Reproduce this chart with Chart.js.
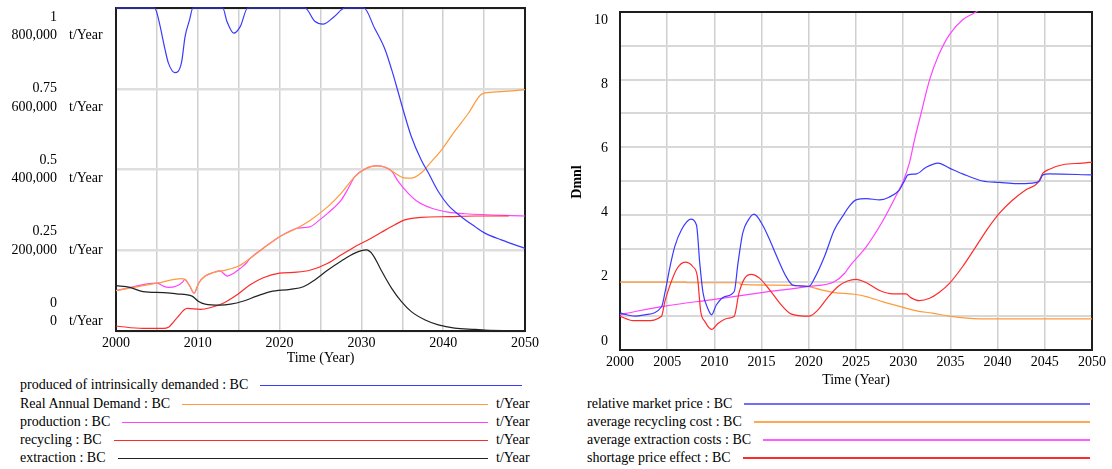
<!DOCTYPE html>
<html><head><meta charset="utf-8">
<script src="https://cdn.jsdelivr.net/npm/chart.js@4.4.0/dist/chart.umd.min.js"></script>
<style>
html,body{margin:0;padding:0;background:#fff;width:1112px;height:469px;overflow:hidden;font-family:"Liberation Serif","Times New Roman",serif;color:#000;}
#c1wrap{position:absolute;left:0;top:0;width:560px;height:372px;}
#c2wrap{position:absolute;left:560px;top:0;width:552px;height:392px;}
.row{position:absolute;display:flex;align-items:center;font-size:14px;height:18px;white-space:nowrap;}
.row .ln{flex:1;margin-left:12px;height:0;}
.unit{position:absolute;font-size:14px;line-height:18px;height:18px;}
</style>
</head><body>
<div id="c1wrap"><canvas id="c1" width="560" height="372"></canvas></div>
<div id="c2wrap"><canvas id="c2" width="552" height="392"></canvas></div>
<div id="legend"></div>
<script>
// ---------- Left chart data (year, value) ----------
const producedIntrinsic = [[2000,1],[2004.7,1],[2005,0.985],[2005.4,0.943],[2006,0.871],[2006.4,0.83],[2007.2,0.80],[2008,0.83],[2008.45,0.912],[2009,0.964],[2009.4,1],[2013.06,1],[2013.55,0.959],[2014.4,0.922],[2015.2,0.943],[2016.1,1],[2023.1,1],[2024.3,0.959],[2025.3,0.950],[2026.7,0.974],[2028,1],[2030.3,1],[2031.6,0.938],[2032.9,0.871],[2033.7,0.809],[2034.3,0.757],[2035.1,0.685],[2036.1,0.602],[2037.3,0.53],[2038.2,0.489],[2039.4,0.432],[2040.6,0.39],[2042.2,0.354],[2043.9,0.323],[2045.1,0.303],[2047.1,0.282],[2050,0.256]];
const realAnnualDemand = [[2000,100000],[2005,118400],[2008,129600],[2008.4,128000],[2009,112000],[2009.55,93600],[2010.1,118400],[2010.9,136000],[2011.9,144800],[2013.1,149600],[2015,160800],[2016.4,180000],[2018,204800],[2020,233600],[2022.1,254400],[2023.8,275200],[2025.9,308000],[2027.55,341600],[2029.2,382400],[2030.4,400800],[2031.8,408800],[2032.9,405600],[2034.1,391200],[2035.1,380000],[2036.1,378400],[2037.3,391200],[2038.4,416000],[2039.8,448800],[2041.4,494400],[2043.1,540000],[2044.5,583200],[2045.1,589600],[2047.1,592800],[2050,597600]];
const production = [[2000,100000],[2005,118400],[2005.3,116800],[2005.8,111200],[2006.4,108000],[2007.4,111600],[2008.2,122400],[2008.4,128000],[2009,112000],[2009.55,93600],[2010.1,118400],[2010.9,136000],[2011.9,144800],[2012.7,148800],[2013.6,136000],[2014.4,143200],[2015.2,155200],[2016,169600],[2016.4,180000],[2018,204800],[2020,233600],[2022.1,254400],[2022.9,256000],[2023.8,258800],[2024.9,275200],[2025.9,292000],[2027.55,324800],[2028.4,353600],[2029.2,382400],[2030.4,400800],[2031.8,408800],[2032.9,405600],[2033.7,396000],[2034.5,370400],[2035.7,341600],[2036.9,320000],[2038.6,304000],[2040.6,294400],[2042.65,290400],[2050,284800]];
const recycling = [[2000,12400],[2003.3,6400],[2005.8,6400],[2006.4,9100],[2007.4,31200],[2008.7,56000],[2010.3,53600],[2011.5,57600],[2013.1,68800],[2014.8,89600],[2016.4,114400],[2018,132000],[2020,143200],[2022.1,145600],[2023.8,151200],[2025.9,168000],[2027.55,188800],[2029.2,208800],[2030.8,225600],[2032.4,244000],[2034.1,263200],[2035.3,275200],[2037.3,281600],[2040.6,283200],[2043.9,284800],[2048,284800]];
const extraction = [[2000,112400],[2001.7,108000],[2003.3,97600],[2005.8,95200],[2007.4,92000],[2009.3,86400],[2010.1,72800],[2010.9,66400],[2012.7,64000],[2014,66400],[2015.6,74400],[2017.2,86400],[2018.9,97600],[2021.3,103200],[2022.9,109600],[2024.3,126400],[2025.9,151200],[2027.55,173600],[2029.2,192800],[2030.6,200800],[2031.4,188800],[2032.4,151200],[2033.7,105600],[2034.9,72800],[2036.1,48000],[2037.8,27200],[2039.4,15200],[2041.4,7200],[2043.9,4000],[2045.1,2400],[2050,800]];

// ---------- Right chart data (year, Dmnl) ----------
const relativeMarketPrice = [[2000,1.1],[2000.35,1.07],[2001.6,1.0],[2002.6,1.04],[2004.4,1.28],[2004.75,1.68],[2005.3,2.47],[2005.8,3.06],[2006.5,3.55],[2007.5,3.87],[2008.1,3.70],[2008.45,2.57],[2008.8,1.68],[2009.3,1.23],[2009.7,1.04],[2010.2,1.33],[2011.1,1.58],[2012.1,1.73],[2012.5,2.57],[2013,3.46],[2013.6,3.85],[2014.2,4.02],[2015,3.75],[2015.7,3.36],[2016.7,2.71],[2017.6,2.17],[2018.3,1.92],[2019,1.90],[2020,1.88],[2020.6,2.12],[2021.65,2.76],[2022.7,3.55],[2023.8,4.05],[2024.3,4.26],[2025,4.44],[2026.1,4.48],[2027.5,4.44],[2028.5,4.52],[2029.6,4.74],[2030.1,4.99],[2030.5,5.18],[2031.4,5.21],[2032.4,5.40],[2033.7,5.53],[2034.9,5.38],[2036.3,5.21],[2038.4,5.0],[2040.2,4.96],[2042,4.92],[2043.7,4.94],[2044.4,4.99],[2044.8,5.18],[2045.5,5.21],[2050,5.18]];
const avgRecyclingCost = [[2000,2.01],[2007,2.01],[2007.05,1.99],[2012.7,1.99],[2012.75,1.94],[2016,1.92],[2019.9,1.88],[2021.3,1.78],[2022.7,1.70],[2024.8,1.65],[2026.1,1.58],[2027.8,1.43],[2030,1.26],[2031.4,1.16],[2033.1,1.09],[2034.9,1.0],[2038.1,0.92],[2050,0.92]];
const avgExtractionCosts = [[2000,1.04],[2001.6,1.14],[2004.75,1.30],[2010,1.50],[2015,1.70],[2020,1.88],[2022.7,2.02],[2023.8,2.27],[2024.3,2.47],[2026.1,3.06],[2027.8,3.80],[2029.2,4.54],[2030,4.99],[2030.65,5.53],[2031.2,6.22],[2031.9,7.01],[2032.8,8.0],[2033.7,8.69],[2034.9,9.33],[2036.3,9.77],[2037.7,10.0],[2038.5,10.15]];
const shortagePriceEffect = [[2000,1.0],[2001.4,0.87],[2002.8,0.87],[2004.4,1.0],[2004.75,1.43],[2005.3,1.92],[2006,2.39],[2006.9,2.60],[2007.7,2.47],[2008.2,2.17],[2008.55,1.14],[2009,0.84],[2009.7,0.61],[2010.4,0.79],[2011.4,0.94],[2012.1,1.0],[2012.6,1.68],[2013.2,2.12],[2013.9,2.24],[2014.8,2.12],[2015.85,1.78],[2017.1,1.33],[2018.1,1.07],[2020,1.0],[2020.95,1.18],[2022,1.55],[2023.1,1.88],[2024.1,2.04],[2025,2.09],[2026.1,1.99],[2027.5,1.76],[2028.9,1.66],[2030.3,1.66],[2030.8,1.55],[2031.7,1.46],[2032.8,1.53],[2033.8,1.70],[2034.9,1.97],[2036.3,2.47],[2037.7,3.06],[2039.1,3.65],[2040.2,4.05],[2041.6,4.44],[2043,4.74],[2044.3,4.96],[2044.8,5.23],[2045.5,5.35],[2046.9,5.48],[2049,5.53],[2050,5.56]];

// ---------- Tick labels ----------
const leftXTicks = [2000, 2010, 2020, 2030, 2040, 2050];
const rightXTicks = [2000, 2005, 2010, 2015, 2020, 2025, 2030, 2035, 2040, 2045, 2050];
const leftDmnlLabels = ['1', '0.75', '0.5', '0.25', '0'];
const leftTonLabels = ['800,000', '600,000', '400,000', '200,000', '0'];
const rightYLabels = ['10', '8', '6', '4', '2', '0'];

// ---------- Legend ----------
const leftLegend = [
  {name: 'produced of intrinsically demanded : BC', color: '#3a3aff', unit: ''},
  {name: 'Real Annual Demand : BC', color: '#ff9a3c', unit: 't/Year'},
  {name: 'production : BC', color: '#ff44ff', unit: 't/Year'},
  {name: 'recycling : BC', color: '#ff2a2a', unit: 't/Year'},
  {name: 'extraction : BC', color: '#222222', unit: 't/Year'}
];
const rightLegend = [
  {name: 'relative market price : BC', color: '#6f6fff'},
  {name: 'average recycling cost : BC', color: '#ffa854'},
  {name: 'average extraction costs : BC', color: '#ff5cff'},
  {name: 'shortage price effect : BC', color: '#ff2a2a'}
];

const FONT = '14px "Liberation Serif", "Times New Roman", serif';
const toXY = arr => arr.map(([x, y]) => ({x, y}));
function ds(data, color, axis) {
  return {data: toXY(data), borderColor: color, borderWidth: 1.2, pointRadius: 0,
    cubicInterpolationMode: 'monotone', fill: false, yAxisID: axis, clip: 1};
}

function makeFramePlugin(cfg) {
  return {
    id: 'frameAndText',
    beforeDatasetsDraw(chart) {
      const {ctx, chartArea: a} = chart;
      ctx.save();
      ctx.strokeStyle = '#1e1e1e';
      ctx.lineWidth = 2;
      ctx.strokeRect(a.left, a.top, a.right - a.left, a.bottom - a.top);
      ctx.restore();
    },
    afterDraw(chart) {
      const {ctx, chartArea: a} = chart;
      const xs = chart.scales.x;
      ctx.save();
      ctx.fillStyle = '#000';
      ctx.font = FONT;
      ctx.textBaseline = 'middle';
      ctx.textAlign = 'center';
      cfg.xTicks.forEach(v => ctx.fillText(String(v), xs.getPixelForValue(v), a.bottom + cfg.xTickGap));
      ctx.fillText('Time (Year)', (a.left + a.right) / 2, a.bottom + cfg.titleGap);
      cfg.drawY(ctx, a);
      ctx.restore();
    }
  };
}

// Left chart
new Chart(document.getElementById('c1'), {
  type: 'line',
  data: {datasets: [
    ds(producedIntrinsic, '#3a3aff', 'y'),
    ds(extraction, '#222222', 'yt'),
    ds(recycling, '#ff2a2a', 'yt'),
    ds(realAnnualDemand, '#ff9a3c', 'yt'),
    ds(production, '#ff44ff', 'yt')
  ]},
  options: {
    responsive: false, animation: false, devicePixelRatio: 1,
    layout: {padding: {left: 116, top: 8, right: 35, bottom: 41}},
    plugins: {legend: {display: false}, tooltip: {enabled: false}},
    scales: {
      x: {type: 'linear', min: 2000, max: 2050,
        ticks: {display: false, stepSize: 5},
        grid: {color: '#cfcfcf', lineWidth: 1.5, drawTicks: false}, border: {display: false}},
      y: {type: 'linear', min: 0, max: 1, position: 'left',
        ticks: {display: false, stepSize: 0.25},
        grid: {color: '#dedede', lineWidth: 2.5, drawTicks: false}, border: {display: false}},
      yt: {type: 'linear', min: 0, max: 800000, display: false}
    }
  },
  plugins: [makeFramePlugin({
    xTicks: leftXTicks, xTickGap: 12, titleGap: 27,
    drawY(ctx, a) {
      const h = a.bottom - a.top;
      const step = (h - 37) / 4;
      leftDmnlLabels.forEach((t, i) => {
        const y = a.top + 9 + i * step;
        ctx.textAlign = 'right';
        ctx.fillText(t, 57, y);
        ctx.fillText(leftTonLabels[i], 57, y + 18.5);
        ctx.textAlign = 'left';
        ctx.fillText('t/Year', 69, y + 18.5);
      });
    }
  })]
});

// Right chart
new Chart(document.getElementById('c2'), {
  type: 'line',
  data: {datasets: [
    ds(relativeMarketPrice, '#3a3aff', 'y'),
    ds(shortagePriceEffect, '#ff2a2a', 'y'),
    ds(avgExtractionCosts, '#ff44ff', 'y'),
    ds(avgRecyclingCost, '#ff9a3c', 'y')
  ]},
  options: {
    responsive: false, animation: false, devicePixelRatio: 1,
    layout: {padding: {left: 60, top: 12, right: 20, bottom: 42}},
    plugins: {legend: {display: false}, tooltip: {enabled: false}},
    scales: {
      x: {type: 'linear', min: 2000, max: 2050,
        ticks: {display: false, stepSize: 5},
        grid: {color: '#cfcfcf', lineWidth: 1.5, drawTicks: false}, border: {display: false}},
      y: {type: 'linear', min: 0, max: 10,
        ticks: {display: false, stepSize: 1},
        grid: {color: '#d8d8d8', lineWidth: 2, drawTicks: false}, border: {display: false}}
    }
  },
  plugins: [makeFramePlugin({
    xTicks: rightXTicks, xTickGap: 12, titleGap: 30,
    drawY(ctx, a) {
      const y0 = a.top + 8, y1 = a.bottom - 9;
      const step = (y1 - y0) / (rightYLabels.length - 1);
      ctx.textAlign = 'right';
      rightYLabels.forEach((t, i) => ctx.fillText(t, 48, y0 + i * step));
      ctx.save();
      ctx.translate(17, (a.top + a.bottom) / 2 + 1);
      ctx.rotate(-Math.PI / 2);
      ctx.textAlign = 'center';
      ctx.font = 'bold ' + FONT;
      ctx.fillText('Dmnl', 0, 0);
      ctx.restore();
    }
  })]
});

// Legend (HTML)
const legendEl = document.getElementById('legend');
const rowCenters = [385, 404, 422, 440, 458];
leftLegend.forEach((it, i) => {
  const row = document.createElement('div');
  row.className = 'row';
  const right = it.unit ? 488 : 522;
  row.style.left = '20px';
  row.style.width = (right - 20) + 'px';
  row.style.top = (rowCenters[i] - 9) + 'px';
  row.innerHTML = '<span>' + it.name + '</span><div class="ln" style="border-top:1.5px solid ' + it.color + '"></div>';
  legendEl.appendChild(row);
  if (it.unit) {
    const u = document.createElement('div');
    u.className = 'unit';
    u.style.left = '496px';
    u.style.top = (rowCenters[i] - 9) + 'px';
    u.textContent = it.unit;
    legendEl.appendChild(u);
  }
});
rightLegend.forEach((it, i) => {
  const row = document.createElement('div');
  row.className = 'row';
  row.style.left = '587px';
  row.style.width = (1090 - 587) + 'px';
  row.style.top = (rowCenters[i + 1] - 9) + 'px';
  row.innerHTML = '<span>' + it.name + '</span><div class="ln" style="border-top:2px solid ' + it.color + '"></div>';
  legendEl.appendChild(row);
});
</script>
</body></html>
